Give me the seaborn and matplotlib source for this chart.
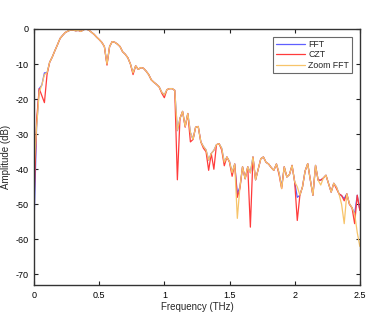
import numpy as np
import pandas as pd
import matplotlib
matplotlib.use("Agg")
import matplotlib.pyplot as plt
import seaborn as sns

freq = [0.00, 0.02, 0.04, 0.06, 0.08, 0.10, 0.12, 0.14, 0.16, 0.18,
        0.20, 0.22, 0.24, 0.26, 0.28, 0.30, 0.32, 0.34, 0.36, 0.38,
        0.40, 0.42, 0.44, 0.46, 0.48, 0.50, 0.52, 0.54, 0.56, 0.58,
        0.60, 0.62, 0.64, 0.66, 0.68, 0.70, 0.72, 0.74, 0.76, 0.78,
        0.80, 0.82, 0.84, 0.86, 0.88, 0.90, 0.92, 0.94, 0.96, 0.98,
        1.00, 1.02, 1.04, 1.06, 1.08, 1.10, 1.12, 1.14, 1.16, 1.18,
        1.20, 1.22, 1.24, 1.26, 1.28, 1.30, 1.32, 1.34, 1.36, 1.38,
        1.40, 1.42, 1.44, 1.46, 1.48, 1.50, 1.52, 1.54, 1.56, 1.58,
        1.60, 1.62, 1.64, 1.66, 1.68, 1.70, 1.72, 1.74, 1.76, 1.78,
        1.80, 1.82, 1.84, 1.86, 1.88, 1.90, 1.92, 1.94, 1.96, 1.98,
        2.00, 2.02, 2.04, 2.06, 2.08, 2.10, 2.12, 2.14, 2.16, 2.18,
        2.20, 2.22, 2.24, 2.26, 2.28, 2.30, 2.32, 2.34, 2.36, 2.38,
        2.40, 2.42, 2.44, 2.46, 2.48, 2.50]

fft_db = [-56.0, -28.0, -17.0, -16.0, -12.5, -12.5, -9.5, -8.0, -6.2, -4.5,
          -2.7, -1.8, -1.0, -0.6, -0.3, -0.3, -0.5, -0.4, -0.7, -0.2,
          0.0, -0.3, -0.9, -1.5, -2.3, -3.0, -3.8, -5.0, -10.0, -5.0,
          -3.6, -3.8, -4.3, -5.0, -6.5, -7.2, -8.2, -10.0, -12.5, -10.5,
          -11.5, -11.0, -11.2, -12.0, -13.0, -14.5, -15.2, -15.8, -16.5, -18.0,
          -18.8, -17.3, -17.0, -17.0, -17.5, -29.0, -25.5, -23.5, -27.8, -24.1,
          -29.5, -31.5, -28.0, -27.8, -32.2, -33.5, -34.5, -37.4, -35.5, -34.6,
          -33.0, -32.7, -34.0, -38.0, -36.5, -37.8, -41.0, -38.5, -47.0, -45.0,
          -39.3, -42.7, -39.3, -41.0, -36.5, -43.0, -40.0, -37.0, -36.5, -38.0,
          -38.5, -39.5, -40.3, -38.5, -41.0, -45.0, -39.3, -42.2, -41.5, -38.9,
          -43.6, -48.0, -47.4, -45.0, -40.5, -38.4, -43.0, -47.4, -38.9, -43.1,
          -43.1, -42.5, -41.7, -44.1, -46.5, -44.0, -45.0, -47.0, -47.5, -48.4,
          -47.0, -49.8, -51.0, -52.7, -47.4, -51.7]

czt_db = [-50.0, -26.0, -17.0, -19.0, -21.0, -13.0, -9.5, -8.0, -6.2, -4.5,
          -2.7, -1.8, -1.0, -0.6, -0.3, -0.3, -0.5, -0.4, -0.7, -0.2,
          0.0, -0.3, -0.9, -1.5, -2.3, -3.0, -3.8, -5.0, -10.3, -5.0,
          -3.6, -3.8, -4.3, -5.0, -6.5, -7.2, -8.2, -10.0, -13.0, -10.5,
          -11.5, -11.0, -11.2, -12.0, -13.0, -14.5, -15.2, -15.8, -16.5, -18.3,
          -19.6, -17.3, -17.0, -17.0, -17.5, -43.0, -25.5, -23.5, -28.0, -24.1,
          -32.2, -31.5, -28.0, -27.8, -32.2, -34.0, -35.0, -40.3, -35.5, -40.0,
          -33.0, -32.7, -34.5, -39.0, -36.5, -38.0, -42.0, -38.5, -48.0, -45.5,
          -39.3, -42.7, -39.3, -56.5, -36.5, -43.0, -40.0, -37.0, -36.5, -38.0,
          -38.5, -39.5, -40.3, -38.5, -41.5, -45.5, -39.3, -42.2, -41.5, -38.9,
          -43.6, -54.6, -47.4, -45.0, -40.5, -38.4, -43.0, -47.4, -38.9, -43.1,
          -43.1, -42.5, -41.7, -44.1, -46.5, -44.0, -45.5, -47.0, -47.5, -49.0,
          -47.0, -50.0, -51.0, -55.5, -47.4, -51.7]

zoom_db = [-40.0, -28.0, -18.0, -16.0, -13.0, -12.5, -9.5, -8.0, -6.2, -4.5,
           -2.7, -1.8, -1.0, -0.6, -0.3, -0.3, -0.5, -0.4, -0.7, -0.2,
           0.0, -0.3, -0.9, -1.5, -2.3, -3.0, -3.8, -5.0, -10.0, -5.0,
           -3.6, -3.8, -4.3, -5.0, -6.5, -7.2, -8.2, -10.0, -12.5, -10.5,
           -11.5, -11.0, -11.2, -12.0, -13.0, -14.5, -15.2, -15.8, -16.5, -18.0,
           -18.8, -17.3, -17.0, -17.0, -17.5, -28.9, -25.5, -23.5, -27.8, -24.1,
           -29.5, -31.5, -28.0, -27.8, -32.2, -33.5, -34.5, -37.4, -35.5, -34.6,
           -33.0, -32.7, -34.0, -38.0, -36.5, -37.8, -41.0, -38.5, -54.0, -45.0,
           -39.3, -42.7, -39.3, -41.0, -36.5, -43.0, -40.0, -37.0, -36.5, -38.0,
           -38.5, -39.5, -40.3, -38.5, -41.0, -45.5, -39.3, -42.2, -41.5, -38.9,
           -43.6, -45.0, -47.4, -45.0, -40.5, -38.4, -43.0, -47.4, -38.9, -43.1,
           -44.5, -42.5, -41.7, -44.1, -46.5, -44.0, -45.0, -47.0, -50.0, -55.5,
           -47.0, -49.8, -51.0, -52.7, -58.0, -62.0]

series_names = ["FFT", "CZT", "Zoom FFT"]
x_ticks = [0, 0.5, 1, 1.5, 2, 2.5]
x_ticklabels = ["0", "0.5", "1", "1.5", "2", "2.5"]
y_ticks = [0, -10, -20, -30, -40, -50, -60, -70]
y_ticklabels = ["0", "-10", "-20", "-30", "-40", "-50", "-60", "-70"]

df = pd.DataFrame({
    "Frequency": freq * 3,
    "Amplitude": fft_db + czt_db + zoom_db,
    "Method": [series_names[0]] * len(freq) + [series_names[1]] * len(freq)
              + [series_names[2]] * len(freq),
})

sns.set_style("white")
plt.rcParams["font.family"] = ["Liberation Sans", "DejaVu Sans"]

fig = plt.figure(figsize=(3.82, 3.19), dpi=100)
ax = fig.add_axes([0.089, 0.1066, 0.853, 0.8025])

palette = {"FFT": "#5f5fff", "CZT": "#ff3b3b", "Zoom FFT": "#f7c46a"}
sns.lineplot(data=df, x="Frequency", y="Amplitude", hue="Method",
             hue_order=series_names, palette=palette, linewidth=0.9,
             ax=ax, legend=True)

ax.set_xlim(0, 2.5)
ax.set_ylim(-73, 0)
ax.set_xticks(x_ticks)
ax.set_xticklabels(x_ticklabels)
ax.set_yticks(y_ticks)
ax.set_yticklabels(y_ticklabels)
ax.set_xlabel("Frequency (THz)", fontsize=7, labelpad=2)
ax.set_ylabel("Amplitude (dB)", fontsize=7, labelpad=3)
ax.tick_params(direction="in", length=3, width=0.8, labelsize=6.5,
               top=True, right=True, bottom=True, left=True, pad=4,
               colors="#222222", labelcolor="black")
for s in ax.spines.values():
    s.set_visible(True)
    s.set_color("#333333")
    s.set_linewidth(1.0)

leg = ax.legend(loc="upper right", fontsize=6.3, frameon=True, fancybox=False,
                edgecolor="#444444", handlelength=3.4, borderpad=0.35,
                labelspacing=0.15, handletextpad=0.35, borderaxespad=0,
                bbox_to_anchor=(0.977, 0.969))
leg.get_frame().set_linewidth(0.8)

fig.savefig("out.png", dpi=100)
